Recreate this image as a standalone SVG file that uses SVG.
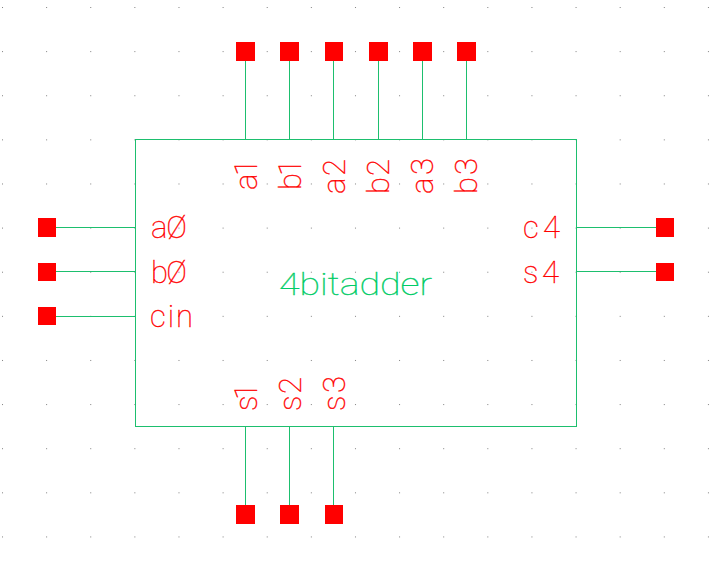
<svg xmlns="http://www.w3.org/2000/svg" width="711" height="565" viewBox="0 0 711 565">
<style>
.pin{fill:#ff0000}
.w{stroke:#1dbf6e;stroke-width:1;fill:none;shape-rendering:crispEdges}
text{font-family:"Roboto","Liberation Sans",sans-serif;font-weight:100;font-size:31px;fill:#ff0000;stroke:#ff0000;stroke-width:.35px}
text.c{fill:#00cc66;stroke:#00cc66}
</style>
<defs>
<pattern id="g" x="2" y="7" width="44.12" height="44.12" patternUnits="userSpaceOnUse"><rect width="1" height="1" fill="#808080"/></pattern>
</defs>
<rect width="711" height="565" fill="#ffffff"/>
<rect width="711" height="565" fill="url(#g)"/>
<g id="connectors">
<path class="w" d="M245.500 61V139M289.500 61V139M333.500 61V139M378.500 61V139M422.500 61V139M466.500 61V139"/>
<path class="w" d="M245.500 426V505M289.500 426V505M333.500 426V505"/>
<path class="w" d="M56 227.500H135M56 271.500H135M56 316.500H135"/>
<path class="w" d="M577 227.500H656M577 271.500H656"/>
</g>
<g id="block">
<rect class="w" x="135.500" y="139.500" width="441" height="287"/>
<text class="c" x="279" y="295" textLength="153" lengthAdjust="spacingAndGlyphs">4bitadder</text>
</g>
<g id="pin-a1"><rect class="pin" x="236" y="42" width="19" height="19"/><text transform="translate(257 190) rotate(-90)" textLength="31">a1</text></g>
<g id="pin-b1"><rect class="pin" x="280" y="42" width="19" height="19"/><text transform="translate(301 190) rotate(-90)" textLength="31">b1</text></g>
<g id="pin-a2"><rect class="pin" x="325" y="42" width="18" height="19"/><text transform="translate(345 194) rotate(-90)" textLength="35">a2</text></g>
<g id="pin-b2"><rect class="pin" x="369" y="42" width="19" height="19"/><text transform="translate(389 194) rotate(-90)" textLength="35">b2</text></g>
<g id="pin-a3"><rect class="pin" x="413" y="42" width="19" height="19"/><text transform="translate(433 194) rotate(-90)" textLength="36">a3</text></g>
<g id="pin-b3"><rect class="pin" x="457" y="42" width="19" height="19"/><text transform="translate(477 194) rotate(-90)" textLength="36">b3</text></g>
<g id="pin-a0"><rect class="pin" x="38" y="218" width="18" height="19"/><text x="151" y="238" textLength="36">aØ</text></g>
<g id="pin-b0"><rect class="pin" x="38" y="263" width="18" height="18"/><text x="151" y="283" textLength="36">bØ</text></g>
<g id="pin-cin"><rect class="pin" x="38" y="307" width="18" height="18"/><text x="150" y="327" textLength="43">cin</text></g>
<g id="pin-c4"><rect class="pin" x="656" y="218" width="18" height="19"/><text x="523" y="238" textLength="37">c4</text></g>
<g id="pin-s4"><rect class="pin" x="656" y="263" width="18" height="18"/><text x="523" y="283" textLength="36">s4</text></g>
<g id="pin-s1"><rect class="pin" x="236" y="505" width="19" height="19"/><text transform="translate(257 411) rotate(-90)" textLength="28">s1</text></g>
<g id="pin-s2"><rect class="pin" x="280" y="505" width="19" height="19"/><text transform="translate(301 411) rotate(-90)" textLength="34">s2</text></g>
<g id="pin-s3"><rect class="pin" x="325" y="505" width="18" height="19"/><text transform="translate(345 411) rotate(-90)" textLength="35">s3</text></g>
</svg>
